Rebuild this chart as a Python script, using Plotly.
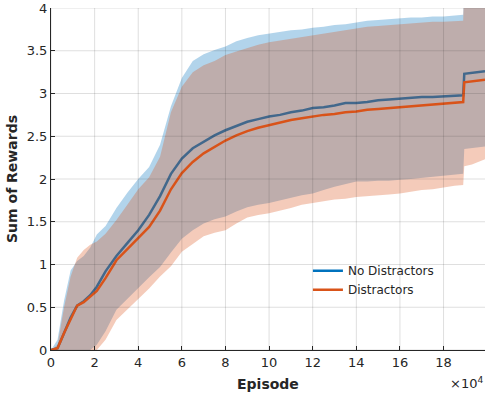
import plotly.graph_objects as go

# episode, in units of 10^4
EPISODE = [0, 0.3, 0.6, 0.9, 1.2, 1.5, 1.8, 2.1, 2.5, 3.0, 3.5, 4.0, 4.5, 5.0, 5.5,
           6.0, 6.5, 7.0, 7.5, 8.0, 8.5, 9.0, 9.5, 10, 10.5, 11, 11.5, 12, 12.5, 13,
           13.5, 14, 14.5, 15, 15.5, 16, 16.5, 17, 17.5, 18, 18.5, 18.9, 18.95, 19.3,
           19.6, 19.9]

NO_DIST_MEAN = [0, 0.02, 0.20, 0.38, 0.52, 0.57, 0.64, 0.74, 0.92, 1.10, 1.25, 1.40,
                1.58, 1.80, 2.06, 2.24, 2.36, 2.44, 2.51, 2.57, 2.62, 2.67, 2.70, 2.73,
                2.75, 2.78, 2.80, 2.83, 2.84, 2.86, 2.89, 2.89, 2.90, 2.92, 2.93, 2.94,
                2.95, 2.96, 2.96, 2.97, 2.98, 2.98, 3.23, 3.24, 3.25, 3.26]
NO_DIST_UPPER = [0, 0.12, 0.58, 0.93, 1.04, 1.10, 1.20, 1.35, 1.45, 1.66, 1.84, 2.00,
                 2.14, 2.40, 2.85, 3.18, 3.38, 3.46, 3.51, 3.55, 3.61, 3.65, 3.68, 3.70,
                 3.72, 3.74, 3.75, 3.77, 3.78, 3.80, 3.81, 3.83, 3.85, 3.86, 3.87, 3.88,
                 3.89, 3.89, 3.90, 3.90, 3.91, 3.92, 4.40, 4.40, 4.40, 4.40]
NO_DIST_LOWER = [0, 0, 0, 0, 0, 0, 0, 0.06, 0.22, 0.47, 0.60, 0.72, 0.85, 0.97, 1.14,
                 1.30, 1.40, 1.48, 1.53, 1.56, 1.62, 1.67, 1.70, 1.72, 1.75, 1.78, 1.81,
                 1.83, 1.87, 1.91, 1.94, 1.97, 1.97, 1.98, 1.98, 1.99, 2.00, 2.01, 2.02,
                 2.03, 2.05, 2.06, 2.35, 2.36, 2.37, 2.38]

DIST_MEAN = [0, 0.02, 0.20, 0.37, 0.52, 0.56, 0.62, 0.69, 0.84, 1.05, 1.18, 1.31, 1.44,
             1.63, 1.88, 2.07, 2.20, 2.30, 2.38, 2.45, 2.51, 2.56, 2.60, 2.63, 2.66,
             2.69, 2.71, 2.73, 2.75, 2.76, 2.78, 2.79, 2.81, 2.82, 2.83, 2.84, 2.85,
             2.86, 2.87, 2.88, 2.89, 2.90, 3.13, 3.14, 3.15, 3.16]
DIST_UPPER = [0, 0.06, 0.50, 0.86, 1.08, 1.17, 1.23, 1.27, 1.36, 1.52, 1.70, 1.88, 2.02,
              2.26, 2.78, 3.08, 3.25, 3.33, 3.38, 3.45, 3.49, 3.53, 3.57, 3.60, 3.62,
              3.64, 3.66, 3.68, 3.70, 3.72, 3.74, 3.76, 3.78, 3.79, 3.80, 3.81, 3.82,
              3.83, 3.84, 3.84, 3.85, 3.85, 4.30, 4.30, 4.30, 4.30]
DIST_LOWER = [0, 0, 0, 0, 0, 0, 0, 0, 0.12, 0.35, 0.48, 0.60, 0.72, 0.86, 0.98, 1.15,
              1.24, 1.33, 1.37, 1.40, 1.48, 1.55, 1.58, 1.60, 1.63, 1.66, 1.70, 1.72,
              1.74, 1.76, 1.77, 1.79, 1.80, 1.81, 1.82, 1.83, 1.85, 1.87, 1.88, 1.90,
              1.92, 1.93, 2.15, 2.17, 2.20, 2.23]

X_TICKS = [0, 2, 4, 6, 8, 10, 12, 14, 16, 18]
Y_TICKS = [0, 0.5, 1, 1.5, 2, 2.5, 3, 3.5, 4]
Y_TICK_TEXT = ["0", "0.5", "1", "1.5", "2", "2.5", "3", "3.5", "4"]

SERIES = [
    ("No Distractors", NO_DIST_MEAN, NO_DIST_UPPER, NO_DIST_LOWER, "#0072BD", "rgba(0,114,189,0.3)"),
    ("Distractors", DIST_MEAN, DIST_UPPER, DIST_LOWER, "#D95319", "rgba(217,83,25,0.3)"),
]

INK = "#262626"
GRID = "rgba(38,38,38,0.15)"
FONT = "DejaVu Sans"

fig = go.Figure()
for name, mean, upper, lower, color, band in SERIES:
    fig.add_trace(
        go.Scatter(
            x=EPISODE + EPISODE[::-1],
            y=upper + lower[::-1],
            fill="toself",
            fillcolor=band,
            line=dict(width=0),
            mode="lines",
            hoverinfo="skip",
            showlegend=False,
        )
    )
    fig.add_trace(
        go.Scatter(
            x=EPISODE,
            y=mean,
            mode="lines",
            name=name,
            line=dict(color=color, width=2.5),
        )
    )

# grid drawn on top of the bands, like the original
shapes = []
for xv in X_TICKS:
    shapes.append(dict(type="line", xref="x", yref="paper", x0=xv, x1=xv, y0=0, y1=1,
                       line=dict(color=GRID, width=1), layer="above"))
for yv in Y_TICKS:
    shapes.append(dict(type="line", xref="paper", yref="y", x0=0, x1=1, y0=yv, y1=yv,
                       line=dict(color=GRID, width=1), layer="above"))

axis_common = dict(
    ticks="inside",
    ticklen=4,
    tickcolor=INK,
    showline=True,
    linecolor=INK,
    linewidth=1,
    showgrid=False,
    zeroline=False,
    automargin=False,
    tickfont=dict(size=13, color=INK),
)

fig.update_layout(
    width=493,
    height=397,
    margin=dict(l=51, r=8, t=8, b=47),
    plot_bgcolor="white",
    paper_bgcolor="white",
    font=dict(family=FONT, size=12, color=INK),
    xaxis=dict(range=[0, 19.9], tickvals=X_TICKS, **axis_common),
    yaxis=dict(range=[0, 4], tickvals=Y_TICKS, ticktext=Y_TICK_TEXT, **axis_common),
    shapes=shapes,
    legend=dict(
        x=0.592,
        y=0.274,
        xanchor="left",
        yanchor="top",
        bgcolor="rgba(0,0,0,0)",
        borderwidth=0,
        font=dict(size=12, color=INK),
        tracegroupgap=0,
    ),
    annotations=[
        dict(text="<b>Episode</b>", x=0.5, y=0, xref="paper", yref="paper",
             xanchor="center", yanchor="middle", yshift=-34, showarrow=False,
             font=dict(size=14, color=INK)),
        dict(text="<b>Sum of Rewards</b>", x=0, y=0.5, xref="paper", yref="paper",
             xanchor="center", yanchor="middle", xshift=-39, textangle=-90,
             showarrow=False, font=dict(size=14, color=INK)),
        dict(text="×10<sup>4</sup>", x=1, y=0, xref="paper", yref="paper",
             xanchor="right", yanchor="middle", yshift=-33, showarrow=False,
             font=dict(size=13, color=INK)),
    ],
)

fig.write_html(
    "out.html",
    config={"displayModeBar": False},
    post_script="document.body.style.margin = '0';",
)
